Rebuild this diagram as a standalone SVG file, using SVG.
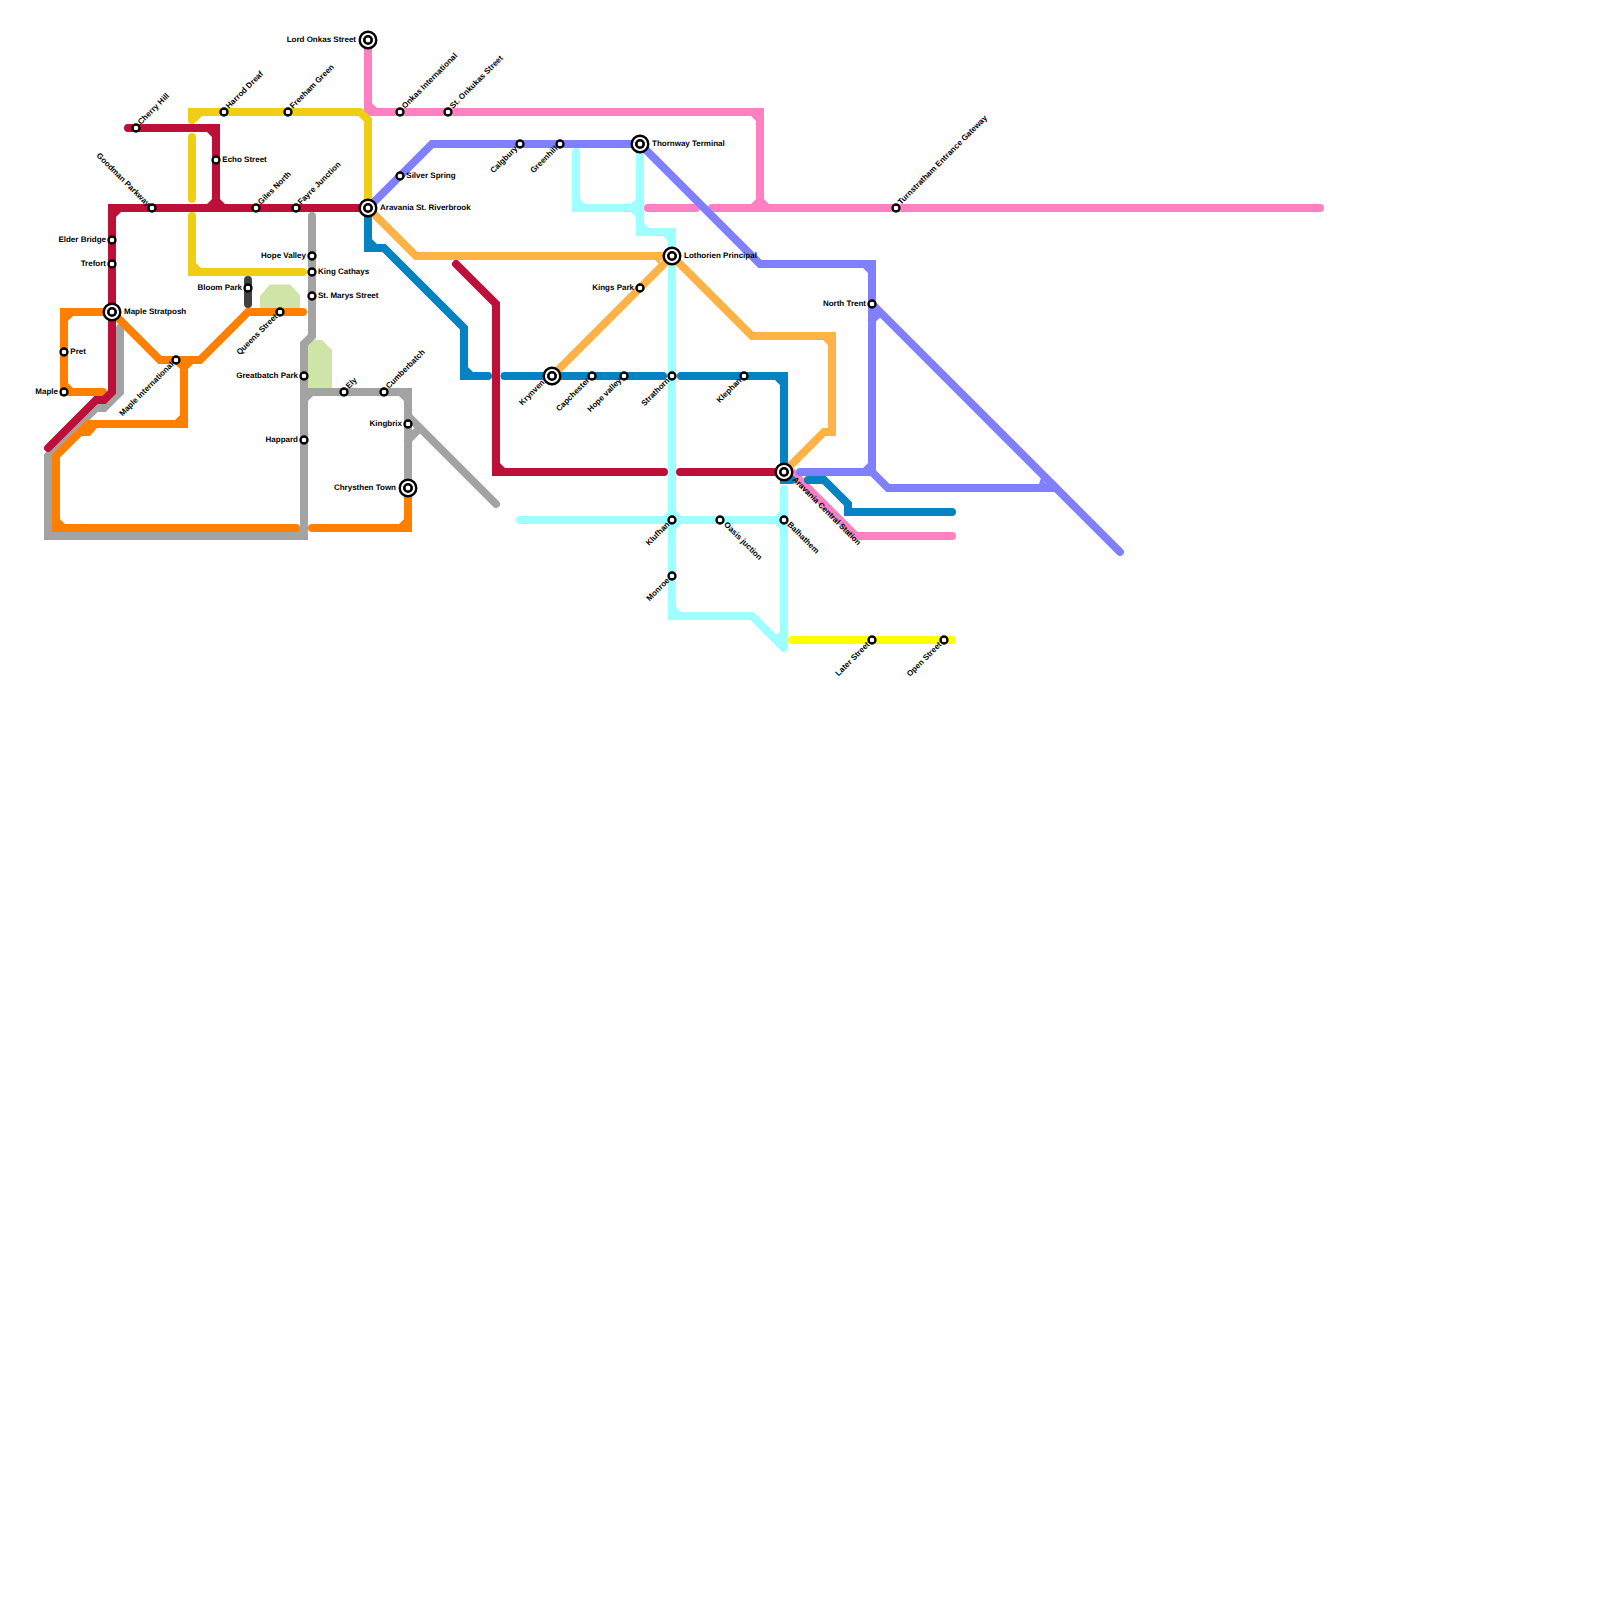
<svg xmlns="http://www.w3.org/2000/svg" width="1600" height="1600" viewBox="0 0 1600 1600">
<style>
.l{fill:none;stroke-width:8;stroke-linecap:round;stroke-linejoin:miter;stroke-miterlimit:4}
.f{stroke:none}
.pink{stroke:#ff80c0}.pinkf{fill:#ff80c0}
.gray{stroke:#a3a3a3}.grayf{fill:#a3a3a3}
.yel{stroke:#f0ce15}.yelf{fill:#f0ce15}
.dark{stroke:#404040}
.org{stroke:#ff8000}.orgf{fill:#ff8000}
.red{stroke:#bd1038}.redf{fill:#bd1038}
.blue{stroke:#0582c1}.bluef{fill:#0582c1}
.lo{stroke:#ffb347}.lof{fill:#ffb347}
.cy{stroke:#9ffeff}.cyf{fill:#9ffeff}
.pu{stroke:#8080ff}.puf{fill:#8080ff}
.by{stroke:#ffff00}
.park{fill:#cfe4a7}
.s{fill:#fff;stroke:#000;stroke-width:2.3}
.i1{fill:#fff;stroke:#000;stroke-width:2.4}
.i2{fill:#fff;stroke:#000;stroke-width:2.6}
text{font-family:"Liberation Sans",Arial,sans-serif;font-weight:700;font-size:8px;fill:#000;text-rendering:geometricPrecision}
.e{text-anchor:end}
</style>
<g id="parks">
<polygon class="park" points="260,296 270,284.5 290,284.5 300,295 300,308 260,308"/>
<polygon class="park" points="308,342 311,340 322,340 332,350 332,388 308,388"/>
</g>
<g id="connectors">
<path class="l pink" d="M368 40V112H760V208M648 208H696M712 208H1320M792 472L856 536H952"/>
<path class="f pinkf" d="M372 108h5l-5-5zM756 116h-5l5 5zM756 204h-5l5-5zM764 204h5l-5-5z"/>
<path class="l gray" d="M120 328V392L104 408H96L48 456V536H304V344L312 336V216M304 392H408V488M408 416L496 504M408 440L420 428"/>
<path class="f grayf" d="M308 396h5l-5 5zM404 396h-5l5 5zM300 532h-5l5-5z"/>
<path class="l yel" d="M192 120V112H360L368 120V200M192 137V199M192 216V272H303"/>
<path class="f yelf" d="M196 116h6l-6 6zM196 268h5l-5-5z"/>
<path class="l dark" d="M248 280V304"/>
<path class="l org" d="M112 312H64V392H103M112 312L160 360H200L248 312H303M184 360V424H88L56 456V528H296M312 528H408V488"/>
<path class="f orgf" d="M68 316h5l-5 5zM68 388h5l-5-5zM180 364h-5l5 5zM188 364h5l-5 5zM180 420h-5l5-5zM60 524h5l-5-5zM404 524h-5l5-5zM78 436H90L97 428L90 424z"/>
<path class="l red" d="M128 128H216V208M368 208H112V392L104 400H96L48 448M456 264L496 304V472H664M680 472H784"/>
<path class="f redf" d="M212 132h-5l5 5zM212 204h-5l5-5zM220 204h5l-5-5zM116 212h5l-5 5zM500 468h5l-5-5z"/>
<path class="l blue" d="M368 208V248H384L464 328V376H488M504.500 376H663M681 376H784V472L784 480H792M808 480H824L848 504V512H952"/>
<path class="f bluef" d="M372 244h5l-5-5zM468 372h5l-5-5zM780 380h-5l5 5z"/>
<path class="l lo" d="M368 208L416 256H672L752 336H832V432H824L784 472M672 256L552 376"/>
<path class="f lof" d="M828 340h-5l5 5zM655 260h5v5z"/>
<path class="l cy" d="M576 152V208H640M640 144V232H672V616H752L784 648M784 648V489M520 520H784"/>
<path class="f cyf" d="M580 204h5l-5-5zM636 204h-5l5-5zM636 212h-5l5 5zM644 228h5l-5-5zM668 236h-5l5 5zM676 612h5l-5-5zM668 516h-5l5-5zM676 516h5l-5-5zM676 524h5l-5 5zM780 516h-5l5-5zM780 524h-5l5 5zM780 638V632L776 635z"/>
<path class="l pu" d="M368 208L432 144H640L760 264H872V472M800 472H872L888 488H1056M872 304L1120 552M872 320L880 312"/>
<path class="f puf" d="M868 268h-5l5 5zM868 468h-5l5-5zM1046 484H1039L1041 478z"/>
<path class="l by" d="M792 640H952"/>
</g>
<g id="n-lord-onkas"><circle class="i1" cx="368" cy="40" r="8.300"/><circle class="i2" cx="368" cy="40" r="3.700"/><text class="e" x="356" y="41.700">Lord Onkas Street</text></g>
<g id="n-aravania-st"><circle class="i1" cx="368" cy="208" r="8.300"/><circle class="i2" cx="368" cy="208" r="3.700"/><text x="380" y="209.700">Aravania St. Riverbrook</text></g>
<g id="n-maple-stratposh"><circle class="i1" cx="112" cy="312" r="8.300"/><circle class="i2" cx="112" cy="312" r="3.700"/><text x="124" y="313.700">Maple Stratposh</text></g>
<g id="n-chrysthen"><circle class="i1" cx="408" cy="488" r="8.300"/><circle class="i2" cx="408" cy="488" r="3.700"/><text class="e" x="396" y="489.700">Chrysthen Town</text></g>
<g id="n-thornway"><circle class="i1" cx="640" cy="144" r="8.300"/><circle class="i2" cx="640" cy="144" r="3.700"/><text x="652" y="145.700">Thornway Terminal</text></g>
<g id="n-lothorien"><circle class="i1" cx="672" cy="256" r="8.300"/><circle class="i2" cx="672" cy="256" r="3.700"/><text x="684" y="257.700">Lothorien Principal</text></g>
<g id="n-krynven"><circle class="i1" cx="552" cy="376" r="8.300"/><circle class="i2" cx="552" cy="376" r="3.700"/><text class="e" transform="translate(545,383) rotate(-45)">Krynven</text></g>
<g id="n-aravania-central"><circle class="i1" cx="784" cy="472" r="8.300"/><circle class="i2" cx="784" cy="472" r="3.700"/><text transform="translate(792,480) rotate(45)">Aravania Central Station</text></g>
<g id="n-cherry"><circle class="s" cx="136" cy="128" r="3.500"/><text transform="translate(141,125) rotate(-45)">Cherry Hill</text></g>
<g id="n-harrod"><circle class="s" cx="224" cy="112" r="3.500"/><text transform="translate(229,109) rotate(-45)">Harrod Dreaf</text></g>
<g id="n-freeham"><circle class="s" cx="288" cy="112" r="3.500"/><text transform="translate(293,109) rotate(-45)">Freeham Green</text></g>
<g id="n-onkas"><circle class="s" cx="400" cy="112" r="3.500"/><text transform="translate(405,109) rotate(-45)">Onkas International</text></g>
<g id="n-st-onkukas"><circle class="s" cx="448" cy="112" r="3.500"/><text transform="translate(453,109) rotate(-45)">St. Onkukas Street</text></g>
<g id="n-giles"><circle class="s" cx="256" cy="208" r="3.500"/><text transform="translate(261,205) rotate(-45)">Giles North</text></g>
<g id="n-fayre"><circle class="s" cx="296" cy="208" r="3.500"/><text transform="translate(301,205) rotate(-45)">Fayre Junction</text></g>
<g id="n-ely"><circle class="s" cx="344" cy="392" r="3.500"/><text transform="translate(349,389) rotate(-45)">Ely</text></g>
<g id="n-cumberbatch"><circle class="s" cx="384" cy="392" r="3.500"/><text transform="translate(389,389) rotate(-45)">Cumberbatch</text></g>
<g id="n-turnstratham"><circle class="s" cx="896" cy="208" r="3.500"/><text transform="translate(901,205) rotate(-45)">Turnstratham Entrance Gateway</text></g>
<g id="n-goodman"><circle class="s" cx="152" cy="208" r="3.500"/><text class="e" transform="translate(147,207) rotate(45)">Goodman Parkway</text></g>
<g id="n-echo"><circle class="s" cx="216" cy="160" r="3.500"/><text x="222.300" y="161.700">Echo Street</text></g>
<g id="n-silver"><circle class="s" cx="400" cy="176" r="3.500"/><text x="406.300" y="177.700">Silver Spring</text></g>
<g id="n-king"><circle class="s" cx="312" cy="272" r="3.500"/><text x="318" y="273.700">King Cathays</text></g>
<g id="n-st-marys"><circle class="s" cx="312" cy="296" r="3.500"/><text x="318" y="297.700">St. Marys Street</text></g>
<g id="n-pret"><circle class="s" cx="64" cy="352" r="3.500"/><text x="70.300" y="353.700">Pret</text></g>
<g id="n-elder"><circle class="s" cx="112" cy="240" r="3.500"/><text class="e" x="106" y="241.700">Elder Bridge</text></g>
<g id="n-trefort"><circle class="s" cx="112" cy="264" r="3.500"/><text class="e" x="106" y="265.700">Trefort</text></g>
<g id="n-hope-valley"><circle class="s" cx="312" cy="256" r="3.500"/><text class="e" x="306" y="257.700">Hope Valley</text></g>
<g id="n-bloom"><circle class="s" cx="248" cy="288" r="3.500"/><text class="e" x="242" y="289.700">Bloom Park</text></g>
<g id="n-maple"><circle class="s" cx="64" cy="392" r="3.500"/><text class="e" x="58" y="393.700">Maple</text></g>
<g id="n-greatbatch"><circle class="s" cx="304" cy="376" r="3.500"/><text class="e" x="298" y="377.700">Greatbatch Park</text></g>
<g id="n-happard"><circle class="s" cx="304" cy="440" r="3.500"/><text class="e" x="298" y="441.700">Happard</text></g>
<g id="n-kingbrix"><circle class="s" cx="408" cy="424" r="3.500"/><text class="e" x="402" y="425.700">Kingbrix</text></g>
<g id="n-kings-park"><circle class="s" cx="640" cy="288" r="3.500"/><text class="e" x="634" y="289.700">Kings Park</text></g>
<g id="n-north-trent"><circle class="s" cx="872" cy="304" r="3.500"/><text class="e" x="866" y="305.700">North Trent</text></g>
<g id="n-queens"><circle class="s" cx="280" cy="312" r="3.500"/><text class="e" transform="translate(278,317) rotate(-45)">Queens Street</text></g>
<g id="n-maple-intl"><circle class="s" cx="176" cy="360" r="3.500"/><text class="e" transform="translate(174,365) rotate(-45)">Maple International</text></g>
<g id="n-calgbury"><circle class="s" cx="520" cy="144" r="3.500"/><text class="e" transform="translate(518,149) rotate(-45)">Calgbury</text></g>
<g id="n-greenhill"><circle class="s" cx="560" cy="144" r="3.500"/><text class="e" transform="translate(558,149) rotate(-45)">Greenhill</text></g>
<g id="n-capchester"><circle class="s" cx="592" cy="376" r="3.500"/><text class="e" transform="translate(590,381) rotate(-45)">Capchester</text></g>
<g id="n-hope-valley-2"><circle class="s" cx="624" cy="376" r="3.500"/><text class="e" transform="translate(622,381) rotate(-45)">Hope valley</text></g>
<g id="n-strathorn"><circle class="s" cx="672" cy="376" r="3.500"/><text class="e" transform="translate(670,381) rotate(-45)">Strathorn</text></g>
<g id="n-klephan"><circle class="s" cx="744" cy="376" r="3.500"/><text class="e" transform="translate(742,381) rotate(-45)">Klephan</text></g>
<g id="n-klufhan"><circle class="s" cx="672" cy="520" r="3.500"/><text class="e" transform="translate(670,525) rotate(-45)">Klufhan</text></g>
<g id="n-monroe"><circle class="s" cx="672" cy="576" r="3.500"/><text class="e" transform="translate(670,581) rotate(-45)">Monroe</text></g>
<g id="n-later"><circle class="s" cx="872" cy="640" r="3.500"/><text class="e" transform="translate(870,645) rotate(-45)">Later Street</text></g>
<g id="n-open"><circle class="s" cx="944" cy="640" r="3.500"/><text class="e" transform="translate(942,645) rotate(-45)">Open Street</text></g>
<g id="n-oasis"><circle class="s" cx="720" cy="520" r="3.500"/><text transform="translate(723.500,525) rotate(45)">Oasis juction</text></g>
<g id="n-balhathem"><circle class="s" cx="784" cy="520" r="3.500"/><text transform="translate(787,525) rotate(45)">Balhathem</text></g>
</svg>
